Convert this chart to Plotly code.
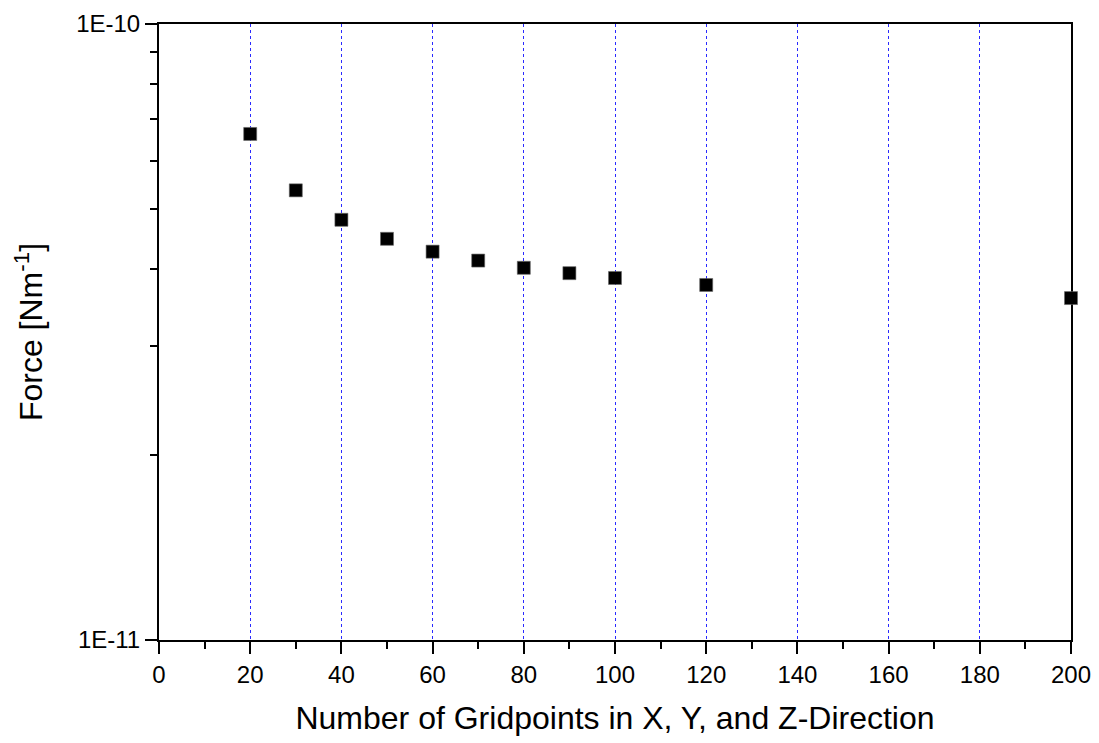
import plotly.graph_objects as go

gridpoints = [20, 30, 40, 50, 60, 70, 80, 90, 100, 120, 200]
force = [6.63e-11, 5.37e-11, 4.81e-11, 4.48e-11, 4.27e-11, 4.13e-11,
         4.02e-11, 3.94e-11, 3.87e-11, 3.77e-11, 3.59e-11]

x_ticks = [0, 20, 40, 60, 80, 100, 120, 140, 160, 180, 200]
y_tickvals = [1e-11, 1e-10]
y_ticktext = ["1E-11", "1E-10"]

FONT = "Liberation Sans"

fig = go.Figure()
fig.add_trace(go.Scatter(
    x=gridpoints, y=force, mode="markers",
    marker=dict(symbol="square", size=13, color="black",
                line=dict(color="#666666", width=0.6)),
    cliponaxis=False, showlegend=False,
))

fig.update_layout(
    width=1099, height=743,
    margin=dict(l=159, r=28, t=24, b=103),
    paper_bgcolor="white", plot_bgcolor="white",
    font=dict(family=FONT, color="black", size=24),
)

fig.update_xaxes(
    range=[0, 200], tickvals=x_ticks, ticktext=[str(v) for v in x_ticks],
    ticks="outside", ticklen=12, tickwidth=2, tickcolor="black",
    tickfont=dict(size=24, family=FONT, color="black"),
    minor=dict(ticks="outside", ticklen=7, tickwidth=2, tickcolor="black",
               dtick=10, showgrid=False),
    showline=True, linewidth=2, linecolor="black", mirror=True,
    showgrid=True, gridcolor="#2a2aff", griddash="dot", gridwidth=1,
    zeroline=False, layer="below traces", automargin=False,
    title=dict(text="Number of Gridpoints in X, Y, and Z-Direction",
               font=dict(size=32, family=FONT, color="black"), standoff=20),
)

fig.update_yaxes(
    type="log", range=[-11, -10],
    tickvals=y_tickvals, ticktext=y_ticktext,
    ticks="outside", ticklen=12, tickwidth=2, tickcolor="black",
    tickfont=dict(size=24, family=FONT, color="black"),
    minor=dict(ticks="outside", ticklen=7, tickwidth=2, tickcolor="black",
               dtick="D1", showgrid=False),
    showline=True, linewidth=2, linecolor="black", mirror=True,
    showgrid=False, zeroline=False, layer="below traces", automargin=False,
    title=dict(text="Force [Nm<sup>-1</sup>]",
               font=dict(size=32, family=FONT, color="black"), standoff=24),
)

fig.write_html("out.html")
